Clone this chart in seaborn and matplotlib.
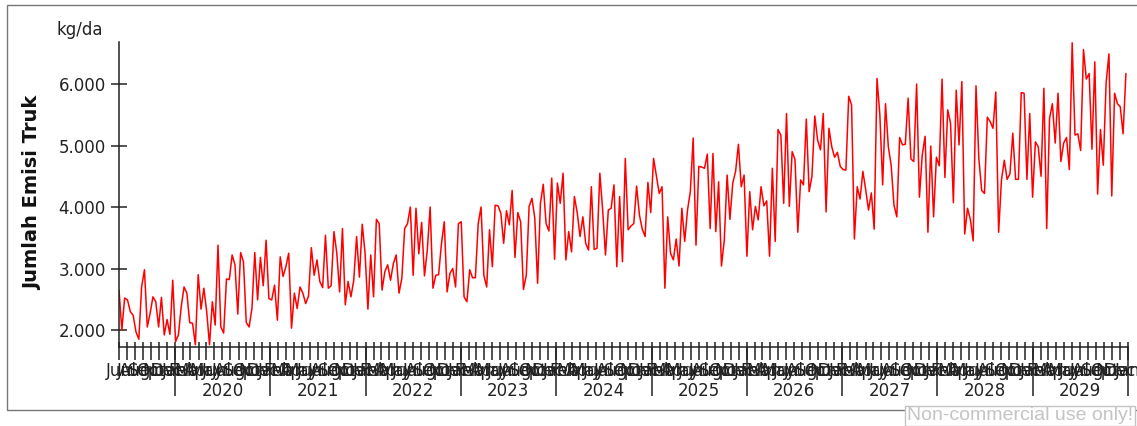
import numpy as np
import pandas as pd
import matplotlib
matplotlib.use('Agg')
import matplotlib.pyplot as plt
import matplotlib.dates as mdates
from matplotlib.ticker import FuncFormatter, FixedLocator
from matplotlib.patches import Rectangle
import seaborn as sns

# emisi truk per dasarian (Jun 2019 - Des 2029)
seg_2019_2021 = [2650, 2000, 2520, 2490, 2300, 2240, 1970, 1850, 2700, 2980, 2050, 2270, 2540, 2460,
                 2050, 2530, 1920, 2170, 1930, 2810, 1810, 1920, 2380, 2700, 2600, 2120, 2110, 1760,
                 2900, 2340, 2680, 2300, 1760, 2460, 2080, 3380, 2050, 1950, 2830, 2820, 3220, 3060,
                 2260, 3260, 3110, 2120, 2050, 2350, 3260, 2490, 3180, 2720, 3460, 2510]
seg_2021_2023 = [2490, 2730, 2160, 3190, 2870, 3030, 3250, 2030, 2600, 2350, 2700, 2600, 2430, 2550,
                 3340, 2890, 3140, 2790, 2690, 3540, 2680, 2720, 3600, 3250, 2620, 3650, 2410, 2790,
                 2540, 2810, 3520, 2860, 3720, 3250, 2340, 3220, 2540, 3800, 3730, 2650, 2950, 3060,
                 2810, 3080, 3220, 2600, 2840, 3650, 3730, 4000, 2890, 3980, 3240, 3750, 2880]
seg_2023_2024 = [3300, 4000, 2680, 2890, 2900, 3400, 3760, 2620, 2920, 3000, 2700, 3730, 3760, 2540,
                 2460, 2980, 2850, 2850, 3730, 4000, 2890, 2700, 3630]
seg_2024_2027 = [3030, 4030, 4020, 3900, 3410, 3940, 3710, 4270, 3180, 3910, 3760, 2660, 2890, 4010,
                 4140, 3820, 2760, 4060, 4370, 3730, 3610, 4470, 3150, 4390, 4060, 4550, 3140, 3600,
                 3270, 4170, 3910, 3520, 3840, 3410, 3300, 4330, 3310, 3330, 4550, 3950, 3220, 3950,
                 3980, 4360, 3030, 4170, 3110, 4790, 3630, 3690, 3730, 4340, 3870, 3640, 3520, 4400,
                 3910, 4790, 4500, 4220, 4330, 2680, 3840, 3250, 3140, 3480, 3040, 3980, 3440, 3950,
                 4250, 5120, 3380, 4660, 4650, 4630, 4860, 3650, 4870, 3600, 4410, 3040, 3460, 4520,
                 3800, 4390, 4580, 5020, 4330, 4520, 3200, 4250, 3630, 4010, 3790, 4330, 4020, 4100,
                 3200, 4630, 3440, 5260, 5170, 4060, 5520, 4010, 4900, 4770, 3590, 4440, 4360, 5430]
seg_2027_2029 = [4250, 4500, 5480, 5090, 4930, 5520, 3920, 5280, 4980, 4810, 4890, 4660, 4610, 4600,
                 5800, 5660, 3480, 4330, 4130, 4580, 4280, 3950, 4230, 3640, 6090, 5500, 4360, 5680,
                 4980, 4680, 4030, 3840, 5130, 5010, 5020, 5770, 4780, 4740, 6000, 4160, 4850, 5150,
                 3590, 4990, 3840, 4810, 4670, 6080, 4480, 5580, 5360, 4070, 5900, 5010, 6040, 3560,
                 3980, 3800, 3450, 5970, 4790, 4270, 4220, 5460, 5390, 5280, 5870, 3590, 4440, 4760,
                 4450, 4540, 5200, 4450, 4450, 5860, 5850, 4450, 5520, 4160, 5060, 4980, 4500, 5930,
                 3650, 5440, 5680, 5040, 5850, 4740, 5040, 5130, 4610, 6670, 5170, 5190, 4920, 6560,
                 6080, 6170, 4940, 6360, 4210, 5260, 4680, 6020, 6490, 4180, 5850, 5680, 5630, 5190, 6170]

emisi = seg_2019_2021 + seg_2021_2023 + seg_2023_2024 + seg_2024_2027 + seg_2027_2029
tanggal = pd.date_range('2019-06-01', '2029-12-24', periods=len(emisi))
df = pd.DataFrame({'tanggal': tanggal, 'emisi': emisi})

y_ticks = [2000, 3000, 4000, 5000, 6000]
tahun = list(range(2020, 2030))

sns.set_theme(style='white')
plt.rcParams['font.family'] = ['DejaVu Sans']

fig = plt.figure(figsize=(11.37, 4.26), dpi=100)
ax = fig.add_axes([119 / 1137, 1 - 347 / 426, 1009 / 1137, 305 / 426])

sns.lineplot(data=df, x='tanggal', y='emisi', color='#ff0000', linewidth=1.1, ax=ax)

ax.set_xlim(pd.Timestamp('2019-06-01'), pd.Timestamp('2030-01-01'))
ax.set_ylim(1724, 6683)
ax.set_xlabel('')
ax.set_ylabel('')

for s in ['top', 'right']:
    ax.spines[s].set_visible(False)
for s in ['left', 'bottom']:
    ax.spines[s].set_color('#222222')
    ax.spines[s].set_linewidth(1.1)

ax.yaxis.set_major_locator(FixedLocator(y_ticks))
ax.yaxis.set_major_formatter(FuncFormatter(lambda v, p: f'{v:,.0f}'.replace(',', '.')))
ax.tick_params(axis='y', direction='inout', length=11, width=1.1, color='#222222',
               labelsize=12, labelcolor='#222222', pad=4, left=True)

# month ticks + labels
ax.xaxis.set_major_locator(mdates.MonthLocator())
ax.xaxis.set_major_formatter(mdates.DateFormatter('%b'))
ax.tick_params(axis='x', direction='out', length=9.5, width=1.1, color='#222222',
               labelsize=12, labelcolor='#222222', pad=1, bottom=True)

# short inner part of month ticks
sec_in = ax.secondary_xaxis('bottom')
sec_in.spines['bottom'].set_visible(False)
sec_in.xaxis.set_major_locator(mdates.MonthLocator())
sec_in.xaxis.set_major_formatter(FuncFormatter(lambda v, p: ''))
sec_in.tick_params(axis='x', direction='in', length=3.6, width=1.1, color='#222222')

# year ticks and labels
sec = ax.secondary_xaxis('bottom')
sec.spines['bottom'].set_visible(False)
sec.xaxis.set_major_locator(mdates.YearLocator())
sec.xaxis.set_major_formatter(FuncFormatter(lambda v, p: ''))
sec.xaxis.set_minor_locator(FixedLocator([mdates.date2num(pd.Timestamp(f'{t}-07-02')) for t in tahun]))
sec.xaxis.set_minor_formatter(mdates.DateFormatter('%Y'))
sec.tick_params(axis='x', which='major', direction='out', length=35, width=1.1, color='#222222')
sec.tick_params(axis='x', which='minor', length=0, pad=25, labelsize=12, labelcolor='#222222')

fig.text(33 / 1137, 1 - 193 / 426, 'Jumlah Emisi Truk', rotation=90, ha='center', va='center',
         fontsize=14, fontweight='bold', color='#111111')
fig.text(57 / 1137, 1 - 30 / 426, 'kg/da', ha='left', va='center', fontsize=12, color='#222222')

fig.patches.append(Rectangle((7 / 1137, 1 - 410 / 426), 1200 / 1137, 405 / 426,
                             transform=fig.transFigure, fill=False, edgecolor='#777777', lw=1))
fig.text(907 / 1137, 1 - 416 / 426, 'Non-commercial use only!', ha='left', va='center',
         fontsize=14, color='#c4c4c4', family='Liberation Sans',
         bbox=dict(facecolor='white', edgecolor='#c4c4c4', boxstyle='square,pad=0.1'))

fig.savefig('out.png', dpi=100)
